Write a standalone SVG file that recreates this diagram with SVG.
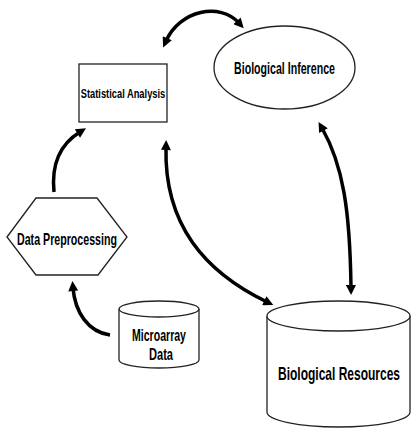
<svg xmlns="http://www.w3.org/2000/svg" width="411" height="428" viewBox="0 0 411 428">
<style>
.shape{fill:#fff;stroke:#222;stroke-width:1.3}
.lbl{font-family:"Liberation Sans",Arial,sans-serif;font-weight:bold;fill:#000;text-anchor:middle}
.conn{fill:none;stroke:#000;stroke-width:3.5;marker-end:url(#ah)}
.both{marker-start:url(#ah)}
</style>
<defs>
<marker id="ah" viewBox="0 0 10 10" refX="3" refY="5" markerUnits="userSpaceOnUse" markerWidth="12" markerHeight="10" orient="auto-start-reverse">
<path d="M0,0 L10,5 L0,10 z" fill="#000"/>
</marker>
</defs>
<rect width="411" height="428" fill="#fff"/>
<g id="connectors">
<path class="conn both" d="M166,41 C180,10 220,2 239,23"/>
<path class="conn" d="M54,192 C51,162 62,143 80,132"/>
<path class="conn" d="M110,335 C88,332 75,312 73,288"/>
<path class="conn both" d="M166,147 C164,225 205,272 267,302"/>
<path class="conn both" d="M322,128 C343,165 350,210 351,288"/>
</g>
<g id="statistical-analysis">
<rect class="shape" x="79" y="64" width="88" height="58"/>
<text class="lbl" transform="translate(123,98) scale(0.717,1)" font-size="13">Statistical Analysis</text>
</g>
<g id="biological-inference">
<ellipse class="shape" cx="284.5" cy="67.5" rx="70.5" ry="41.5" stroke-width="1"/>
<text class="lbl" transform="translate(284.5,74) scale(0.664,1)" font-size="16">Biological Inference</text>
</g>
<g id="data-preprocessing">
<polygon class="shape" points="7,237 36,198 97,198 127,237 98,275 36,275" stroke-width="1"/>
<text class="lbl" transform="translate(67,245) scale(0.666,1)" font-size="16">Data Preprocessing</text>
</g>
<g id="microarray-data">
<path class="shape" d="M119,309 L119,360 A40,8 0 0 0 199,360 L199,309"/>
<ellipse class="shape" cx="159" cy="309" rx="40" ry="8"/>
<text class="lbl" transform="translate(159,341) scale(0.621,1)" font-size="17">Microarray</text>
<text class="lbl" transform="translate(161,360) scale(0.652,1)" font-size="17">Data</text>
</g>
<g id="biological-resources">
<path class="shape" d="M267,316 L267,412 A71.5,15 0 0 0 410,412 L410,316"/>
<ellipse class="shape" cx="338.5" cy="316" rx="71.5" ry="15"/>
<text class="lbl" transform="translate(339,380) scale(0.667,1)" font-size="18">Biological Resources</text>
</g>
</svg>
